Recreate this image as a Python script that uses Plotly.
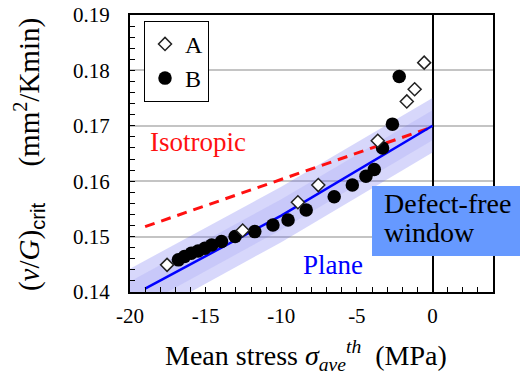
import plotly.graph_objects as go

# ---- data ----
a_x = [-17.55, -12.55, -8.9, -7.55, -3.62, -1.7, -1.18, -0.55]
a_y = [0.1449, 0.1511, 0.1562, 0.1593, 0.1673, 0.1744, 0.1766, 0.1814]

b_x = [-16.8, -16.4, -15.95, -15.5, -15.05, -14.6, -13.95, -13.05, -11.75, -10.55,
       -9.55, -8.35, -6.5, -5.3, -4.4, -3.85, -3.3, -2.65, -2.2]
b_y = [0.1458, 0.1464, 0.1470, 0.1474, 0.1479, 0.1485, 0.1491, 0.1500, 0.1509, 0.1521,
       0.1530, 0.1548, 0.1572, 0.1593, 0.1609, 0.1621, 0.1660, 0.1703, 0.1789]

plane_x = [-19.0, -10.0, 0.0]
plane_y = [0.1406, 0.1538, 0.1700]

iso_x = [-19.0, 0.0]
iso_y = [0.1518, 0.1698]

band_x = [-20.0, -10.0, 0.0]
band_upper = [0.1442, 0.1590, 0.1750]
band_lower = [0.1340, 0.1490, 0.1652]

x_ticks = [-20, -15, -10, -5, 0]
y_ticks = [0.14, 0.15, 0.16, 0.17, 0.18, 0.19]

SERIF = "Liberation Serif"

fig = go.Figure()

mid = [(u + l) / 2 for u, l in zip(band_upper, band_lower)]
half = [(u - l) / 2 for u, l in zip(band_upper, band_lower)]
for frac, alpha in [(1.0, 0.26), (0.55, 0.12)]:
    up = [m + frac * h for m, h in zip(mid, half)]
    lo = [m - frac * h for m, h in zip(mid, half)]
    fig.add_trace(go.Scatter(
        x=band_x + band_x[::-1], y=up + lo[::-1],
        fill="toself", fillcolor=f"rgba(100,100,240,{alpha})",
        line=dict(width=0), mode="lines", hoverinfo="skip", showlegend=False))

fig.add_trace(go.Scatter(x=iso_x, y=iso_y, mode="lines",
                         line=dict(color="#ff1010", width=3, dash="10px,7px"),
                         showlegend=False))
fig.add_trace(go.Scatter(x=plane_x, y=plane_y, mode="lines",
                         line=dict(color="#0000ff", width=2.5),
                         showlegend=False))

fig.add_trace(go.Scatter(x=b_x, y=b_y, mode="markers", name="B",
                         marker=dict(symbol="circle", size=13.5, color="black",
                                     line=dict(width=0))))
fig.add_trace(go.Scatter(x=a_x, y=a_y, mode="markers", name="A",
                         marker=dict(symbol="diamond", size=10, color="white",
                                     line=dict(width=1.5, color="#222222"))))

# page body has an 8px margin, so the figure is offset by (8, 8) in the window
fig.update_layout(
    width=528, height=374,
    margin=dict(l=122, r=43, t=7, b=90, autoexpand=False),
    paper_bgcolor="white", plot_bgcolor="white",
    font=dict(family=SERIF, color="black"),
    showlegend=True,
    legend=dict(x=0.0386, y=0.979, xanchor="left", yanchor="top",
                bgcolor="white", bordercolor="black", borderwidth=1,
                font=dict(family=SERIF, size=24, color="black"),
                traceorder="reversed", itemwidth=30),
    xaxis=dict(range=[-20, 4], tickvals=x_ticks, ticktext=[str(v) for v in x_ticks],
               ticks="inside", ticklen=5, tickcolor="black",
               minor=dict(dtick=1, tick0=0, ticks="inside", ticklen=5, tickcolor="black"),
               showgrid=False, zeroline=True, zerolinecolor="black", zerolinewidth=1.5,
               showline=True, mirror=True, linecolor="black", linewidth=2,
               tickfont=dict(family=SERIF, size=21, color="black"),
               ticklabelstandoff=4, automargin=False, ticklabeloverflow="allow"),
    yaxis=dict(range=[0.14, 0.19], tickvals=y_ticks, ticktext=[f"{v:.2f}" for v in y_ticks],
               ticks="inside", ticklen=5, tickcolor="black",
               minor=dict(dtick=0.002, tick0=0.14, ticks="inside", ticklen=5,
                          tickcolor="black"),
               showgrid=True, gridcolor="#c4c4c4", gridwidth=1.5, zeroline=False,
               showline=True, mirror=True, linecolor="black", linewidth=2,
               tickfont=dict(family=SERIF, size=21, color="black"),
               ticklabelstandoff=14, automargin=False, ticklabeloverflow="allow"),
)

fig.add_shape(type="rect", xref="paper", yref="paper",
              x0=0.6667, x1=1.0799, y0=0.130, y1=0.3827,
              fillcolor="#6699ff", line=dict(width=0), layer="above")

ann = [
    dict(text="Defect-free", x=0.694, y=0.318, xanchor="left", yanchor="middle",
         font=dict(family=SERIF, size=28, color="black")),
    dict(text="window", x=0.694, y=0.213, xanchor="left", yanchor="middle",
         font=dict(family=SERIF, size=28, color="black")),
    dict(text="Isotropic", x=0.0496, y=0.5415, xanchor="left", yanchor="middle",
         font=dict(family=SERIF, size=27, color="#ff1010")),
    dict(text="Plane", x=0.470, y=0.0975, xanchor="left", yanchor="middle",
         font=dict(family=SERIF, size=27, color="#0000ff")),
    dict(text="Mean stress <i>σ<sub>ave</sub><sup>th</sup></i>  (MPa)",
         x=0.485, y=-0.229, xanchor="center", yanchor="middle",
         font=dict(family=SERIF, size=28, color="black")),
    dict(text="(<i>ν</i>/<i>G</i>)<sub><span style='font-family:Liberation Sans'>crit</span></sub>"
              "&nbsp;&nbsp;&nbsp;&nbsp;&nbsp;(mm<sup>2</sup>/Kmin)",
         x=-0.278, y=0.4946, xanchor="center", yanchor="middle", textangle=-90,
         font=dict(family=SERIF, size=29, color="black")),
]
for a in ann:
    fig.add_annotation(xref="paper", yref="paper", showarrow=False, **a)

fig.write_html("out.html")
